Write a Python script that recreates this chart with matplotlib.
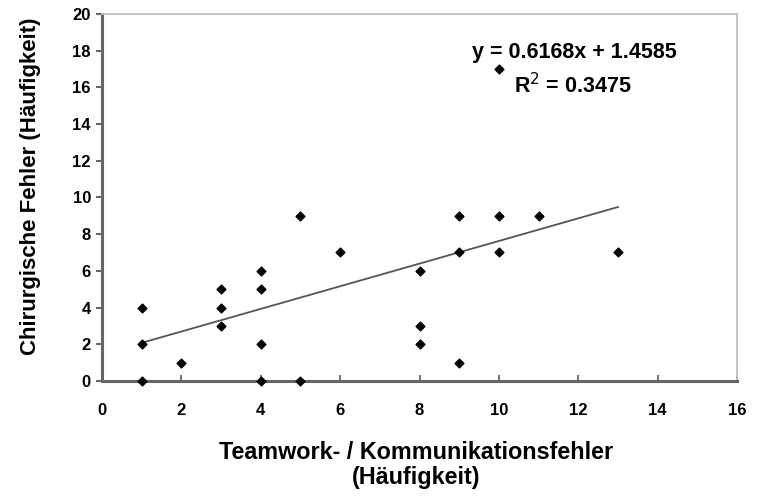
import numpy as np
import matplotlib
matplotlib.use("Agg")
import matplotlib.pyplot as plt

plt.rcParams['font.family'] = ['Liberation Sans', 'DejaVu Sans']

# Teamwork/communication errors vs. surgical errors per case
teamwork_errors = [1, 1, 1, 2, 3, 3, 3, 4, 4, 4, 4, 5, 5, 6, 8, 8, 8, 9, 9, 9, 10, 10, 10, 11, 13]
surgical_errors = [4, 2, 0, 1, 5, 4, 3, 6, 5, 2, 0, 9, 0, 7, 6, 3, 2, 9, 7, 1, 17, 9, 7, 9, 7]

# linear trendline as reported
slope = 0.6168
intercept = 1.4585
r_squared = 0.3475

x_ticks = [0, 2, 4, 6, 8, 10, 12, 14, 16]
y_ticks = [0, 2, 4, 6, 8, 10, 12, 14, 16, 18, 20]

fig = plt.figure(figsize=(7.63, 4.96), dpi=100)
ax = fig.add_axes([0.1337, 0.232, 0.8323, 0.740])

ax.scatter(teamwork_errors, surgical_errors, marker='D', s=20, color='black',
           zorder=3, clip_on=False)

xs = np.array([min(teamwork_errors), max(teamwork_errors)])
ax.plot(xs, slope * xs + intercept, color='#555555', lw=1.3, zorder=2)

ax.text(11.9, 17.9, f"y = {slope}x + {intercept}", ha='center', va='center',
        fontsize=15.5, fontweight='bold')
ax.text(11.85, 16.1, f"R$^2$ = {r_squared}", ha='center', va='center',
        fontsize=15.5, fontweight='bold')

ax.set_xlim(0, 16)
ax.set_ylim(0, 20)
ax.set_xticks(x_ticks)
ax.set_yticks(y_ticks)
ax.tick_params(axis='y', direction='out', length=4, width=1.5, color='#666666',
               labelsize=12, pad=4)
ax.tick_params(axis='x', direction='in', length=4, width=1.3, color='#666666',
               labelsize=12, pad=16)
for lbl in ax.get_xticklabels() + ax.get_yticklabels():
    lbl.set_fontweight('bold')

for side in ['left', 'bottom']:
    ax.spines[side].set_color('#666666')
    ax.spines[side].set_linewidth(2.2)
for side in ['top', 'right']:
    ax.spines[side].set_color('#c0c0c0')
    ax.spines[side].set_linewidth(1.3)

ax.set_xlabel("Teamwork- / Kommunikationsfehler\n(Häufigkeit)", fontsize=16.8,
              fontweight='bold', linespacing=1.15)
ax.xaxis.set_label_coords(0.495, -0.229)
ax.xaxis.label.set_va('center')
ax.set_ylabel("Chirurgische Fehler (Häufigkeit)", fontsize=16,
              fontweight='bold')
ax.yaxis.set_label_coords(-0.113, 0.53)
ax.yaxis.label.set_va('center')

fig.savefig("out.png", dpi=100)
